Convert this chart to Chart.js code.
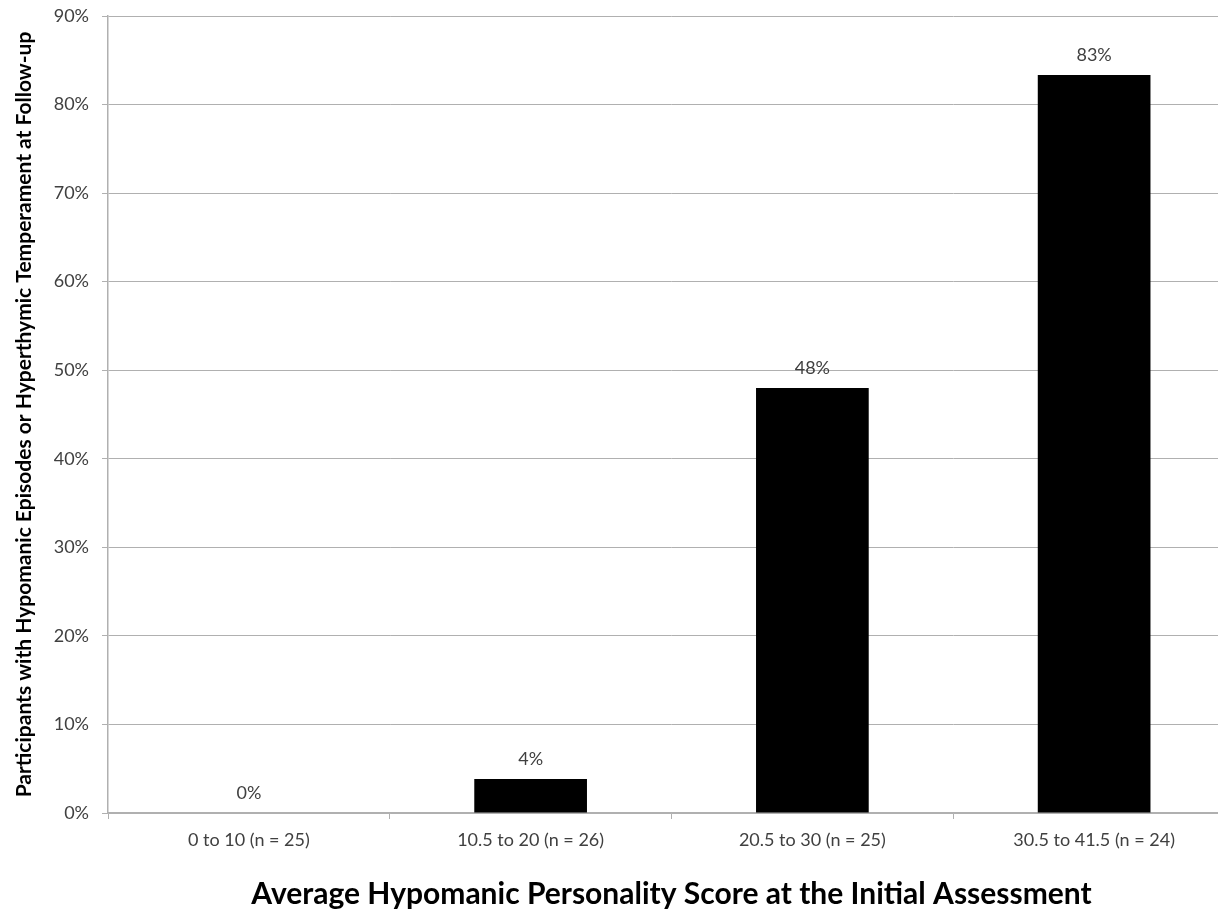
<!DOCTYPE html>
<html>
<head>
<meta charset="utf-8">
<title>Hypomanic Personality Score</title>
<script src="https://cdn.jsdelivr.net/npm/chart.js@4.4.1/dist/chart.umd.min.js"></script>
<style>
  html, body { margin: 0; padding: 0; background: #fff; overflow: hidden; }
  #wrap { width: 1240px; height: 913px; }
</style>
</head>
<body>
<div id="wrap"><canvas id="chart" width="1240" height="913"></canvas></div>
<script>
// Data
const categories = ['0 to 10 (n = 25)', '10.5 to 20 (n = 26)', '20.5 to 30 (n = 25)', '30.5 to 41.5 (n = 24)'];
const percentValues = [0, 3.85, 48, 83.33];
const valueLabels = ['0%', '4%', '48%', '83%'];
const yTicks = [0, 10, 20, 30, 40, 50, 60, 70, 80, 90];

const FONT = 'Lato, "Open Sans", sans-serif';

// draws the percentage above each bar
const barLabels = {
  id: 'barLabels',
  afterDatasetsDraw(chart) {
    const ctx = chart.ctx;
    const meta = chart.getDatasetMeta(0);
    ctx.save();
    ctx.font = '18px ' + FONT;
    ctx.fillStyle = '#404040';
    ctx.textAlign = 'center';
    ctx.textBaseline = 'middle';
    meta.data.forEach((bar, i) => {
      ctx.fillText(valueLabels[i], bar.x, bar.y - 20);
    });
    ctx.restore();
  }
};

new Chart(document.getElementById('chart'), {
  type: 'bar',
  data: {
    labels: categories,
    datasets: [{
      data: percentValues,
      backgroundColor: '#000000',
      borderWidth: 0,
      categoryPercentage: 1,
      barPercentage: 0.4
    }]
  },
  options: {
    responsive: false,
    animation: false,
    layout: { padding: { top: 16, left: 0, right: 5, bottom: 0 } },
    plugins: { legend: { display: false }, tooltip: { enabled: false } },
    scales: {
      x: {
        offset: true,
        grid: { display: true, drawOnChartArea: false, offset: true, color: '#b0b0b0', tickLength: 6, tickColor: '#b0b0b0' },
        border: { color: '#b0b0b0', width: 1.5 },
        ticks: { color: '#404040', font: { family: FONT, size: 18 }, padding: 10, maxRotation: 0 },
        title: {
          display: true,
          text: 'Average Hypomanic Personality Score at the Initial Assessment',
          color: '#000',
          font: { family: FONT, size: 30, weight: 'bold' },
          padding: { top: 0, bottom: 1 }
        },
        afterFit(scale) {
          scale.height = 100;
          scale.paddingLeft = 0;
          scale.paddingRight = 0;
        }
      },
      y: {
        min: 0,
        max: 90,
        afterBuildTicks(scale) { scale.ticks = yTicks.map(v => ({ value: v })); },
        grid: { color: '#b0b0b0', lineWidth: 1, tickLength: 6, tickColor: '#b0b0b0' },
        border: { color: '#b0b0b0', width: 1.5 },
        ticks: {
          color: '#404040',
          font: { family: FONT, size: 18 },
          padding: 13,
          callback: v => v + '%'
        },
        title: {
          display: true,
          text: 'Participants with Hypomanic Episodes or Hyperthymic Temperament at Follow-up',
          color: '#000',
          font: { family: FONT, size: 21, weight: 'bold' },
          padding: { top: 12, bottom: 0 }
        },
        afterFit(scale) {
          scale.width = 108;
          scale.paddingTop = 0;
          scale.paddingBottom = 0;
        }
      }
    }
  },
  plugins: [barLabels]
});
</script>
</body>
</html>
